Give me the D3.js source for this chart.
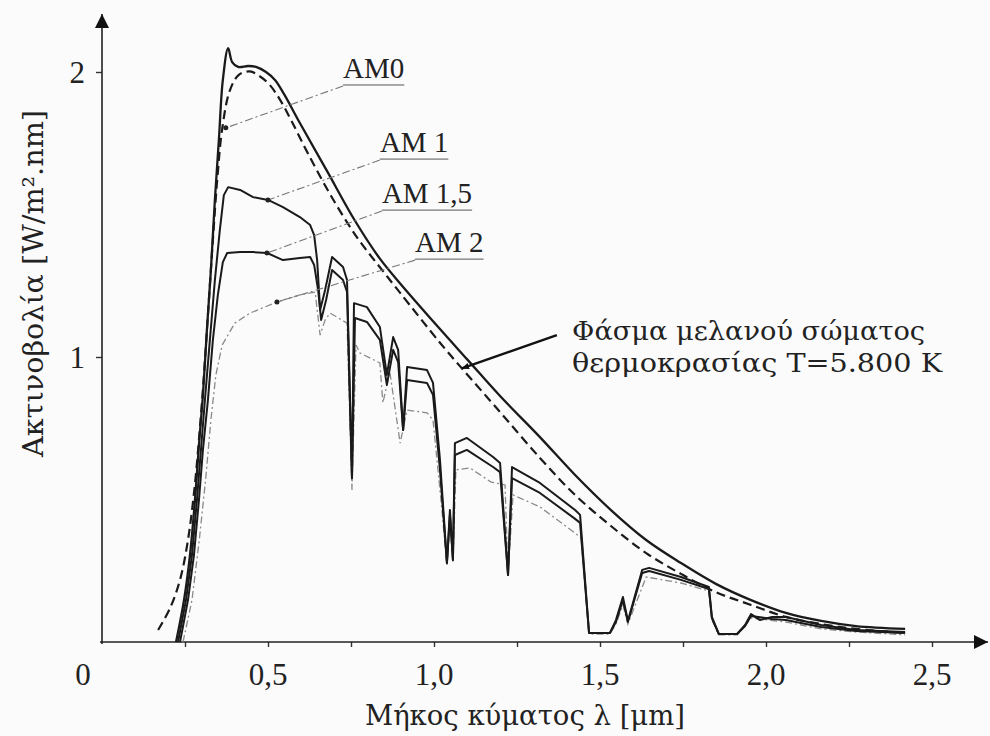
<!DOCTYPE html>
<html>
<head>
<meta charset="utf-8">
<script src="https://cdn.jsdelivr.net/npm/d3@7"></script>
<style>
  html, body { margin: 0; padding: 0; background: #fbfbfb; }
  svg { display: block; }
</style>
</head>
<body>
<div id="graph"></div>
<script>
// Solar spectra, wavelength [um] -> irradiance [W/m2.nm]
const am0 = [
  [0.223, 0], [0.247, 0.147], [0.265, 0.305], [0.280, 0.498], [0.292, 0.691], [0.304, 0.867],
  [0.316, 1.095], [0.328, 1.305], [0.340, 1.551], [0.352, 1.761], [0.364, 1.972], [0.380, 2.084],
  [0.392, 2.035], [0.410, 2.018], [0.440, 2.021], [0.464, 2.018], [0.494, 2.0], [0.521, 1.972],
  [0.548, 1.923], [0.596, 1.821], [0.678, 1.652], [0.762, 1.478], [0.837, 1.345], [0.898, 1.258],
  [1.018, 1.098], [1.102, 0.989], [1.199, 0.863], [1.319, 0.719], [1.425, 0.586], [1.533, 0.463],
  [1.639, 0.358], [1.744, 0.277], [1.849, 0.204], [1.955, 0.147], [2.060, 0.102], [2.166, 0.074],
  [2.271, 0.056], [2.419, 0.046]
];

const blackbody = [
  [0.169, 0.042], [0.205, 0.119], [0.235, 0.218], [0.259, 0.358], [0.278, 0.533], [0.292, 0.709],
  [0.306, 0.919], [0.320, 1.165], [0.334, 1.411], [0.347, 1.621], [0.362, 1.800], [0.385, 1.935],
  [0.412, 1.990], [0.445, 2.002], [0.475, 1.985], [0.505, 1.955], [0.535, 1.905], [0.570, 1.830],
  [0.620, 1.715], [0.690, 1.565], [0.768, 1.420], [0.837, 1.315], [0.898, 1.225], [1.018, 1.050],
  [1.084, 0.960], [1.199, 0.807], [1.319, 0.646], [1.425, 0.516], [1.533, 0.407], [1.639, 0.312],
  [1.744, 0.239], [1.849, 0.175], [1.955, 0.130], [2.060, 0.088], [2.166, 0.063], [2.271, 0.046],
  [2.419, 0.032]
];

const am1 = [
  [0.229, 0], [0.253, 0.147], [0.271, 0.305], [0.286, 0.498], [0.298, 0.674], [0.310, 0.849],
  [0.325, 1.060], [0.340, 1.270], [0.355, 1.446], [0.367, 1.568], [0.380, 1.596], [0.416, 1.586],
  [0.455, 1.561], [0.500, 1.551], [0.545, 1.526], [0.596, 1.491], [0.627, 1.463], [0.639, 1.428],
  [0.648, 1.340], [0.657, 1.165], [0.672, 1.235], [0.693, 1.351], [0.726, 1.316], [0.738, 1.270],
  [0.753, 0.575], [0.759, 1.189], [0.798, 1.175], [0.837, 1.105], [0.858, 0.937], [0.877, 1.070],
  [0.892, 1.025], [0.907, 0.744], [0.919, 0.965], [0.979, 0.954], [0.997, 0.909], [1.018, 0.639],
  [1.039, 0.277], [1.048, 0.463], [1.057, 0.288], [1.063, 0.698], [1.099, 0.716], [1.178, 0.649],
  [1.199, 0.628], [1.223, 0.235], [1.235, 0.614], [1.319, 0.558], [1.425, 0.463], [1.440, 0.446],
  [1.467, 0.032], [1.530, 0.032], [1.548, 0.077], [1.569, 0.158], [1.584, 0.074], [1.627, 0.253],
  [1.648, 0.260], [1.744, 0.228], [1.828, 0.193], [1.837, 0.088], [1.858, 0.028], [1.913, 0.028],
  [1.937, 0.060], [1.955, 0.098], [1.982, 0.077], [2.018, 0.088], [2.060, 0.088], [2.166, 0.060],
  [2.271, 0.042], [2.419, 0.035]
];

const am15 = [
  [0.235, 0], [0.259, 0.147], [0.277, 0.305], [0.292, 0.498], [0.304, 0.674], [0.319, 0.849],
  [0.334, 1.060], [0.349, 1.218], [0.364, 1.333], [0.377, 1.365], [0.416, 1.368], [0.455, 1.368],
  [0.497, 1.365], [0.545, 1.340], [0.596, 1.347], [0.627, 1.351], [0.639, 1.323], [0.651, 1.235],
  [0.660, 1.130], [0.675, 1.200], [0.693, 1.305], [0.726, 1.270], [0.738, 1.228], [0.753, 0.575],
  [0.762, 1.137], [0.798, 1.123], [0.837, 1.060], [0.858, 0.902], [0.877, 1.025], [0.892, 0.982],
  [0.907, 0.744], [0.919, 0.919], [0.979, 0.909], [0.997, 0.867], [1.018, 0.604], [1.039, 0.277],
  [1.048, 0.446], [1.057, 0.288], [1.063, 0.656], [1.099, 0.674], [1.178, 0.614], [1.199, 0.596],
  [1.223, 0.235], [1.235, 0.575], [1.319, 0.523], [1.425, 0.432], [1.440, 0.418], [1.467, 0.032],
  [1.530, 0.032], [1.548, 0.070], [1.569, 0.147], [1.584, 0.070], [1.627, 0.242], [1.648, 0.249],
  [1.744, 0.218], [1.828, 0.186], [1.837, 0.084], [1.858, 0.028], [1.913, 0.028], [1.937, 0.056],
  [1.955, 0.091], [2.018, 0.081], [2.060, 0.077], [2.166, 0.053], [2.271, 0.039], [2.419, 0.032]
];

const am2 = [
  [0.244, 0], [0.271, 0.147], [0.293, 0.358], [0.312, 0.568], [0.328, 0.779], [0.343, 0.937],
  [0.362, 1.042], [0.400, 1.119], [0.446, 1.154], [0.527, 1.193], [0.596, 1.218], [0.642, 1.228],
  [0.657, 1.077], [0.672, 1.130], [0.687, 1.154], [0.738, 1.119], [0.753, 0.533], [0.765, 1.042],
  [0.777, 1.014], [0.837, 0.979], [0.846, 0.839], [0.867, 0.947], [0.898, 0.698], [0.919, 0.814],
  [0.979, 0.804], [0.997, 0.779], [1.021, 0.498], [1.039, 0.270], [1.048, 0.428], [1.057, 0.281],
  [1.066, 0.604], [1.108, 0.611], [1.172, 0.561], [1.214, 0.551], [1.223, 0.232], [1.238, 0.516],
  [1.319, 0.474], [1.425, 0.382], [1.443, 0.365], [1.467, 0.028], [1.530, 0.028], [1.548, 0.063],
  [1.569, 0.130], [1.584, 0.063], [1.639, 0.228], [1.744, 0.207], [1.828, 0.179], [1.837, 0.077],
  [1.858, 0.025], [1.913, 0.025], [1.955, 0.084], [2.060, 0.070], [2.166, 0.046], [2.271, 0.035],
  [2.419, 0.025]
];

// Tick values and labels
const xTicks = [0.25, 0.5, 0.75, 1.0, 1.25, 1.5, 1.75, 2.0, 2.25, 2.5];
const xLabels = [0.5, 1.0, 1.5, 2.0, 2.5];
const yTicks = [1, 2];

// Curve labels: name, label anchor [um, W], leader end on the curve [um, W]
const amNames = ["AM0", "AM 1", "AM 1,5", "AM 2"];
const amLabelPos = [[0.726, 1.979], [0.837, 1.719], [0.843, 1.540], [0.943, 1.368]];
const amLeaderEnd = [[0.373, 1.804], [0.500, 1.551], [0.497, 1.365], [0.527, 1.193]];

const bbText = ["Φάσμα μελανού σώματος", "θερμοκρασίας T=5.800 K"];

const width = 990;
const height = 736;
const marginLeft = 102;
const marginBottom = 94;
const font = "'Liberation Serif', serif";
const greekFont = "'DejaVu Serif', 'Liberation Serif', serif";

const x = d3.scaleLinear().domain([0, 2.5]).range([marginLeft, 932]);
const y = d3.scaleLinear().domain([0, 2]).range([height - marginBottom, 72]);

const svg = d3.select("#graph").append("svg")
    .attr("width", width)
    .attr("height", height);

svg.append("defs").append("marker")
    .attr("id", "arrow")
    .attr("viewBox", "0 0 10 10")
    .attr("refX", 9).attr("refY", 5)
    .attr("markerWidth", 8).attr("markerHeight", 8)
    .attr("markerUnits", "userSpaceOnUse")
    .attr("orient", "auto")
    .append("path")
    .attr("d", "M0,1 L10,5 L0,9 Z")
    .attr("fill", "#111");

svg.select("defs").append("marker")
    .attr("id", "axisArrow")
    .attr("viewBox", "0 0 10 10")
    .attr("refX", 10).attr("refY", 5)
    .attr("markerWidth", 16).attr("markerHeight", 14)
    .attr("markerUnits", "userSpaceOnUse")
    .attr("orient", "auto")
    .append("path")
    .attr("d", "M0,0 L10,5 L0,10 Z")
    .attr("fill", "#111");

// Axes
const xAxis = d3.axisBottom(x).tickValues(xTicks).tickSize(5).tickFormat("");
svg.append("g")
    .attr("transform", `translate(0,${y(0)})`)
    .call(xAxis)
    .call(g => g.select(".domain").remove())
    .call(g => g.selectAll(".tick line").attr("stroke", "#333").attr("stroke-width", 1.4));

svg.append("line")
    .attr("x1", x(0) - 2).attr("x2", 988)
    .attr("y1", y(0)).attr("y2", y(0))
    .attr("stroke", "#222").attr("stroke-width", 1.6)
    .attr("marker-end", "url(#axisArrow)");

const yAxis = d3.axisLeft(y).tickValues(yTicks).tickSize(6).tickFormat("");
svg.append("g")
    .attr("transform", `translate(${x(0)},0)`)
    .call(yAxis)
    .call(g => g.select(".domain").remove())
    .call(g => g.selectAll(".tick line").attr("stroke", "#333").attr("stroke-width", 1.4));

svg.append("line")
    .attr("x1", x(0)).attr("x2", x(0))
    .attr("y1", y(0) + 2).attr("y2", 14)
    .attr("stroke", "#222").attr("stroke-width", 1.6)
    .attr("marker-end", "url(#axisArrow)");

// Tick labels
svg.append("g")
    .selectAll("text")
    .data(xLabels)
    .join("text")
    .attr("x", d => x(d))
    .attr("y", 685)
    .attr("text-anchor", "middle")
    .attr("font-family", font)
    .attr("font-size", 31)
    .attr("fill", "#222")
    .text(d => d3.format(".1f")(d).replace(".", ","));

svg.append("text")
    .attr("x", x(0) - 19).attr("y", 685)
    .attr("text-anchor", "middle")
    .attr("font-family", font).attr("font-size", 31).attr("fill", "#222")
    .text("0");

svg.append("g")
    .selectAll("text")
    .data(yTicks)
    .join("text")
    .attr("x", x(0) - 17)
    .attr("y", d => y(d) + 11)
    .attr("text-anchor", "end")
    .attr("font-family", font)
    .attr("font-size", 31)
    .attr("fill", "#222")
    .text(d => d);

// Axis titles
svg.append("text")
    .attr("x", 365).attr("y", 725)
    .attr("font-family", greekFont).attr("font-size", 27).attr("fill", "#222")
    .attr("textLength", 320).attr("lengthAdjust", "spacingAndGlyphs")
    .text("Μήκος κύματος λ [μm]");

svg.append("text")
    .attr("transform", `translate(43,457) rotate(-90)`)
    .attr("font-family", greekFont).attr("font-size", 28).attr("fill", "#222")
    .attr("textLength", 347).attr("lengthAdjust", "spacingAndGlyphs")
    .text("Ακτινοβολία [W/m².nm]");

// Spectra
const lineSmooth = d3.line()
    .x(d => x(d[0]))
    .y(d => y(d[1]))
    .curve(d3.curveCatmullRom.alpha(0.5));

const lineSharp = d3.line()
    .x(d => x(d[0]))
    .y(d => y(d[1]));

svg.append("path")
    .attr("d", lineSharp(am2))
    .attr("fill", "none")
    .attr("stroke", "#8a8a8a")
    .attr("stroke-width", 1.3)
    .attr("stroke-dasharray", "7,3,2,3");

svg.append("path")
    .attr("d", lineSharp(am15))
    .attr("fill", "none")
    .attr("stroke", "#1a1a1a")
    .attr("stroke-width", 2)
    .attr("stroke-linejoin", "round");

svg.append("path")
    .attr("d", lineSharp(am1))
    .attr("fill", "none")
    .attr("stroke", "#1a1a1a")
    .attr("stroke-width", 2)
    .attr("stroke-linejoin", "round");

svg.append("path")
    .attr("d", lineSmooth(blackbody))
    .attr("fill", "none")
    .attr("stroke", "#1a1a1a")
    .attr("stroke-width", 2.2)
    .attr("stroke-dasharray", "9,5");

svg.append("path")
    .attr("d", lineSmooth(am0))
    .attr("fill", "none")
    .attr("stroke", "#1a1a1a")
    .attr("stroke-width", 2.3)
    .attr("stroke-linejoin", "round");

// Curve labels with leader lines
const labels = svg.append("g");
amNames.forEach((name, i) => {
    const lx = x(amLabelPos[i][0]);
    const ly = y(amLabelPos[i][1]);
    const t = labels.append("text")
        .attr("x", lx).attr("y", ly)
        .attr("font-family", font).attr("font-size", 29).attr("fill", "#222")
        .text(name);
    const w = t.node().getComputedTextLength();
    labels.append("line")
        .attr("x1", lx).attr("x2", lx + w)
        .attr("y1", ly + 7).attr("y2", ly + 7)
        .attr("stroke", "#555").attr("stroke-width", 1);
    labels.append("line")
        .attr("x1", lx).attr("y1", ly + 8)
        .attr("x2", x(amLeaderEnd[i][0])).attr("y2", y(amLeaderEnd[i][1]))
        .attr("stroke", "#777").attr("stroke-width", 1.1)
        .attr("stroke-dasharray", "8,3,2,3");
    labels.append("circle")
        .attr("cx", x(amLeaderEnd[i][0])).attr("cy", y(amLeaderEnd[i][1]))
        .attr("r", 2.5).attr("fill", "#222");
});

// Black body annotation
svg.append("line")
    .attr("x1", x(1.370)).attr("y1", y(1.077))
    .attr("x2", x(1.084)).attr("y2", y(0.960))
    .attr("stroke", "#111").attr("stroke-width", 2.4)
    .attr("marker-end", "url(#arrow)");

svg.append("g")
    .selectAll("text")
    .data(bbText)
    .join("text")
    .attr("x", x(1.416))
    .attr("y", (d, i) => 340 + i * 32)
    .attr("font-family", greekFont)
    .attr("font-size", 26)
    .attr("fill", "#222")
    .attr("textLength", (d, i) => i === 0 ? 353 : 370)
    .attr("lengthAdjust", "spacingAndGlyphs")
    .text(d => d);
</script>
</body>
</html>
